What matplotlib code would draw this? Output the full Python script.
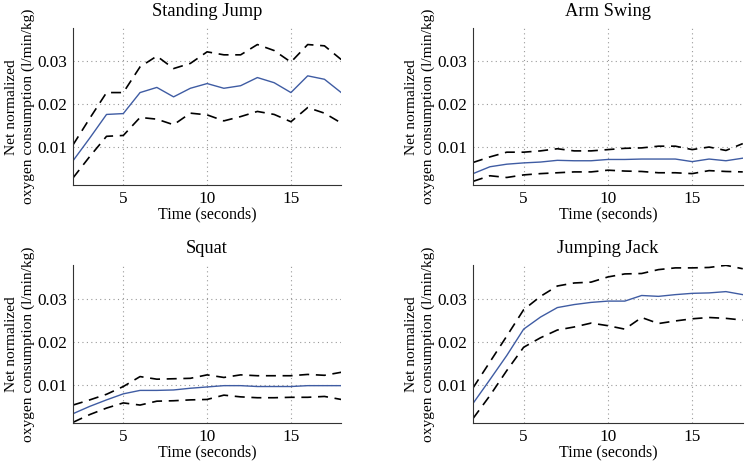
import numpy as np
import matplotlib
matplotlib.use("Agg")
import matplotlib.pyplot as plt

# Time axis (seconds)
time_s = list(range(2, 19))

# Standing Jump: mean, upper and lower bound
jump_mean = [0.0068, 0.0121, 0.0176, 0.0178, 0.0227, 0.0239, 0.0217, 0.0237, 0.0248,
             0.0237, 0.0243, 0.0262, 0.0250, 0.0227, 0.0266, 0.0258, 0.0227]
jump_upper = [0.0105, 0.0167, 0.0227, 0.0227, 0.0287, 0.0312, 0.0283, 0.0295, 0.0322,
              0.0315, 0.0315, 0.0339, 0.0325, 0.0298, 0.0339, 0.0336, 0.0304]
jump_lower = [0.0028, 0.0078, 0.0125, 0.0127, 0.0169, 0.0165, 0.0152, 0.0179, 0.0175,
              0.0161, 0.0171, 0.0183, 0.0176, 0.0159, 0.0192, 0.0179, 0.0156]

# Arm Swing
arm_mean = [0.0038, 0.0054, 0.0060, 0.0063, 0.0065, 0.0069, 0.0068, 0.0068, 0.0071,
            0.0071, 0.0072, 0.0072, 0.0072, 0.0066, 0.0072, 0.0068, 0.0074]
arm_upper = [0.0064, 0.0077, 0.0088, 0.0088, 0.0091, 0.0096, 0.0091, 0.0091, 0.0094,
             0.0097, 0.0098, 0.0102, 0.0102, 0.0094, 0.0100, 0.0092, 0.0108]
arm_lower = [0.0020, 0.0033, 0.0029, 0.0035, 0.0038, 0.0040, 0.0042, 0.0042, 0.0046,
             0.0044, 0.0043, 0.0040, 0.0040, 0.0038, 0.0045, 0.0043, 0.0042]

# Squat
squat_mean = [0.0033, 0.0050, 0.0065, 0.0079, 0.0087, 0.0087, 0.0088, 0.0092, 0.0095,
              0.0098, 0.0098, 0.0096, 0.0096, 0.0096, 0.0098, 0.0098, 0.0098]
squat_upper = [0.0053, 0.0065, 0.0078, 0.0096, 0.0119, 0.0113, 0.0114, 0.0115, 0.0123,
               0.0117, 0.0123, 0.0121, 0.0121, 0.0121, 0.0124, 0.0122, 0.0129]
squat_lower = [0.0013, 0.0031, 0.0046, 0.0058, 0.0053, 0.0062, 0.0063, 0.0065, 0.0066,
               0.0076, 0.0072, 0.0070, 0.0070, 0.0071, 0.0071, 0.0073, 0.0066]

# Jumping Jack
jack_mean = [0.0057, 0.0112, 0.0168, 0.0229, 0.0257, 0.0279, 0.0286, 0.0291, 0.0294,
             0.0294, 0.0307, 0.0305, 0.0309, 0.0312, 0.0313, 0.0316, 0.0309]
jack_upper = [0.0093, 0.0153, 0.0213, 0.0274, 0.0305, 0.0329, 0.0336, 0.0338, 0.0350,
              0.0357, 0.0358, 0.0367, 0.0371, 0.0371, 0.0372, 0.0377, 0.0369]
jack_lower = [0.0022, 0.0075, 0.0133, 0.0187, 0.0209, 0.0227, 0.0234, 0.0243, 0.0237,
              0.0229, 0.0256, 0.0242, 0.0248, 0.0253, 0.0256, 0.0254, 0.0250]

titles = ["Standing Jump", "Arm Swing", "Squat", "Jumping Jack"]
x_ticks = [5, 10, 15]
y_ticks = [0.01, 0.02, 0.03]
y_tick_labels = ["0.01", "0.02", "0.03"]

plt.rcParams['font.family'] = ['Liberation Serif', 'DejaVu Serif']
plt.rcParams['font.size'] = 11

fig = plt.figure(figsize=(7.45, 4.63), dpi=100)

# axes rectangles [left, bottom, width, height] in figure fractions
rects = [
    [0.098, 0.600, 0.360, 0.339],
    [0.635, 0.600, 0.362, 0.339],
    [0.098, 0.086, 0.360, 0.341],
    [0.635, 0.086, 0.362, 0.341],
]
panels = [
    (jump_mean, jump_upper, jump_lower),
    (arm_mean, arm_upper, arm_lower),
    (squat_mean, squat_upper, squat_lower),
    (jack_mean, jack_upper, jack_lower),
]

for rect, title, (mean, upper, lower) in zip(rects, titles, panels):
    ax = fig.add_axes(rect)
    ax.plot(time_s, upper, color='black', linestyle=(0, (6, 4)), linewidth=1.2)
    ax.plot(time_s, lower, color='black', linestyle=(0, (6, 4)), linewidth=1.2)
    ax.plot(time_s, mean, color='#3f5ca3', linewidth=1.0)

    ax.set_xlim(2, 18)
    ax.set_ylim(0.0011, 0.0377)
    ax.set_xticks(x_ticks)
    ax.set_yticks(y_ticks)
    ax.set_yticklabels(y_tick_labels)
    ax.tick_params(axis='x', length=0, pad=4, labelsize=12.4)
    ax.tick_params(axis='y', length=0, pad=4, labelsize=12.4)
    ax.grid(True, linestyle=(0, (1, 3)), color='#999999', linewidth=0.8)

    for side in ['top', 'right']:
        ax.spines[side].set_visible(False)
    for side in ['left', 'bottom']:
        ax.spines[side].set_color('#333333')
        ax.spines[side].set_linewidth(0.8)

    ax.set_title(title, fontsize=13.3, pad=9)
    ax.set_xlabel("Time (seconds)", fontsize=11.5, labelpad=0)
    ax.set_ylabel("Net normalized\noxygen consumption (l/min/kg)", fontsize=11.1,
                  labelpad=2, linespacing=1.3)

fig.savefig("out.png", dpi=100)
